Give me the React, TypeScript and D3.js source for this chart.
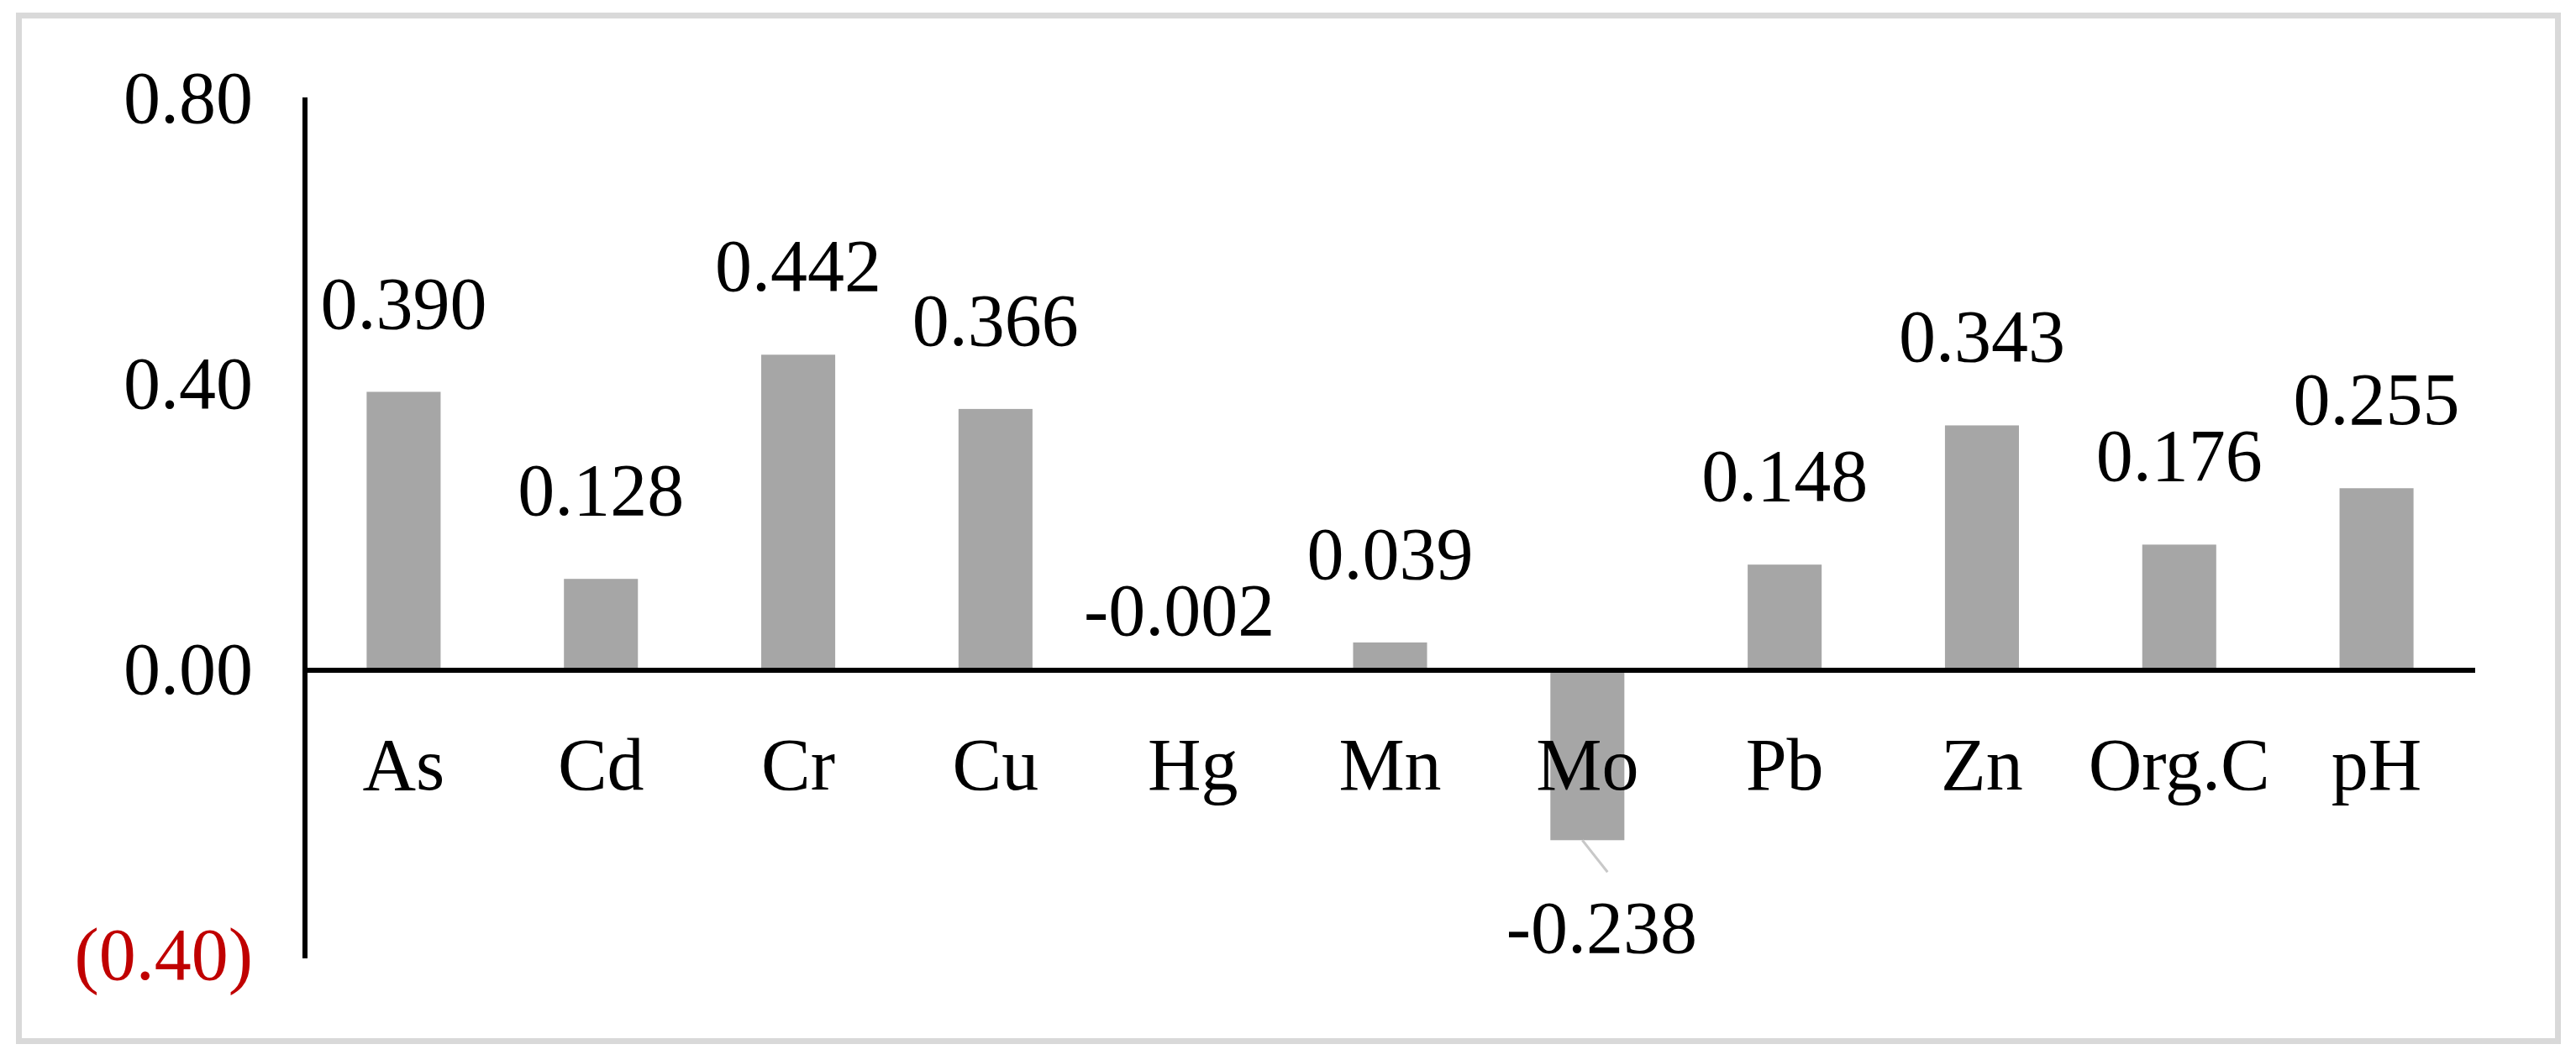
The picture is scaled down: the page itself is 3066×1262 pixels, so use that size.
import React from "react";
import * as d3 from "d3";

// chart values
const categories = ["As", "Cd", "Cr", "Cu", "Hg", "Mn", "Mo", "Pb", "Zn", "Org.C", "pH"];
const values = [0.39, 0.128, 0.442, 0.366, -0.002, 0.039, -0.238, 0.148, 0.343, 0.176, 0.255];
const yTicks = [0.8, 0.4, 0, -0.4];
const yTickLabels = ["0.80", "0.40", "0.00", "(0.40)"];

const WIDTH = 3066;
const HEIGHT = 1262;
const FONT = "'Liberation Serif', 'Times New Roman', serif";

// labels that were dragged away from their default spot in the original chart
const labelNudge: Record<string, { dx: number; dy: number; leader?: boolean }> = {
    Hg: { dx: -16, dy: -178 },
    Mo: { dx: 17, dy: 0, leader: true },
};

const App = () => {
    const x = d3
        .scaleBand()
        .domain(categories)
        .range([363, 2946])
        .paddingInner(0.625)
        .paddingOuter(0.3125);

    const y = d3.scaleLinear().domain([-0.4, 0.8]).range([1138, 118]);

    const data = categories.map((c, i) => ({ name: c, value: values[i] }));

    return (
        <svg
            width={WIDTH}
            height={HEIGHT}
            style={{ position: "absolute", left: 0, top: 0, display: "block", background: "#fff" }}
            fontFamily={FONT}
        >
            <rect x={0} y={0} width={WIDTH} height={HEIGHT} fill="#fff" />
            {/* outer frame */}
            <rect x={22.5} y={18.5} width={3022} height={1221} fill="none" stroke="#d9d9d9" strokeWidth={7} />

            {/* bars */}
            {data.map((d) => {
                const top = Math.min(y(d.value), y(0));
                const h = Math.abs(y(d.value) - y(0));
                return (
                    <rect key={d.name} x={x(d.name)} y={top} width={x.bandwidth()} height={h} fill="#a6a6a6" />
                );
            })}

            {/* axes */}
            <line x1={363} x2={363} y1={y(0.8) - 2} y2={y(-0.4) + 3} stroke="#000" strokeWidth={6} />
            <line x1={360} x2={x.range()[1]} y1={y(0)} y2={y(0)} stroke="#000" strokeWidth={6} />

            {/* y tick labels */}
            {yTicks.map((t, i) => (
                <text
                    key={t}
                    x={301}
                    y={y(t) + 28}
                    textAnchor="end"
                    fontSize={88}
                    fill={t < 0 ? "#c00000" : "#000"}
                >
                    {yTickLabels[i]}
                </text>
            ))}

            {/* category labels */}
            {data.map((d) => (
                <text
                    key={"c" + d.name}
                    x={(x(d.name) ?? 0) + x.bandwidth() / 2}
                    y={940}
                    textAnchor="middle"
                    fontSize={88}
                    fill="#000"
                >
                    {d.name}
                </text>
            ))}

            {/* value labels */}
            {data.map((d) => {
                const cx = (x(d.name) ?? 0) + x.bandwidth() / 2;
                const nudge = labelNudge[d.name] || { dx: 0, dy: 0 };
                const baseY = d.value >= 0 ? y(d.value) - 76 : y(d.value) + 134;
                return (
                    <g key={"v" + d.name}>
                        {nudge.leader && (
                            <line
                                x1={cx - 6}
                                y1={y(d.value)}
                                x2={cx + 24}
                                y2={y(d.value) + 38}
                                stroke="#c8c8c8"
                                strokeWidth={3}
                            />
                        )}
                        <text
                            x={cx + nudge.dx}
                            y={baseY + nudge.dy}
                            textAnchor="middle"
                            fontSize={88}
                            fill="#000"
                        >
                            {d.value.toFixed(3)}
                        </text>
                    </g>
                );
            })}
        </svg>
    );
};

export default App;
